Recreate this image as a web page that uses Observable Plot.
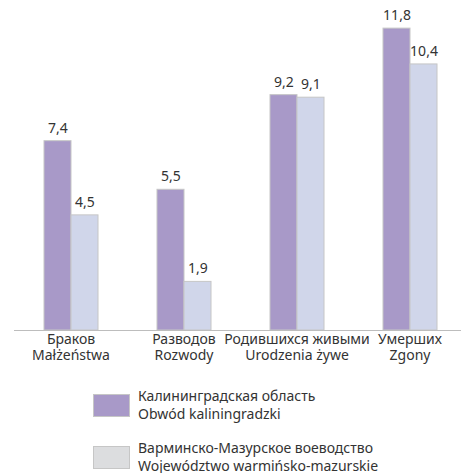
<!DOCTYPE html>
<html>
<head>
<meta charset="utf-8">
<script src="https://cdn.jsdelivr.net/npm/d3@7"></script>
<script src="https://cdn.jsdelivr.net/npm/@observablehq/plot@0.6"></script>
<style>
  body { margin: 0; background: #fff; font-family: "Noto Sans", sans-serif; color: #333; }
  #chart svg { display: block; }
  .legend { padding-left: 93px; margin-top: 17px; }
  .item { display: flex; align-items: center; margin-bottom: 16px; }
  .sw { width: 35px; height: 21px; border: 1px solid #c6c6c6; margin-right: 8px; flex: none; }
  .lbl { font-size: 14px; line-height: 18px; color: #333; }
</style>
</head>
<body>
<div id="chart"></div>
<div class="legend" id="legend"></div>
<script>
const categories = ["Браков\nMałżeństwa", "Разводов\nRozwody", "Родившихся живыми\nUrodzenia żywe", "Умерших\nZgony"];
const seriesNames = ["Калининградская область\nObwód kaliningradzki", "Варминско-Мазурское воеводство\nWojewództwo warmińsko-mazurskie"];
const kaliningrad = [7.4, 5.5, 9.2, 11.8];
const warmia = [4.5, 1.9, 9.1, 10.4];
const barColors = ["#a899c8", "#d0d6ea"];
const legendColors = ["#a899c8", "#dcdddf"];

const data = [];
categories.forEach((c, i) => {
  data.push({cat: c, series: seriesNames[0], value: kaliningrad[i]});
  data.push({cat: c, series: seriesNames[1], value: warmia[i]});
});
const fmt = v => v.toFixed(1).replace(".", ",");

const chart = Plot.plot({
  width: 461,
  height: 370,
  marginTop: 23,
  marginBottom: 40,
  marginLeft: 13,
  marginRight: -6,
  style: {fontFamily: "Noto Sans, sans-serif", fontSize: "14px", color: "#333"},
  fx: {domain: categories, padding: 0, label: null},
  x: {domain: seriesNames, paddingInner: 0, paddingOuter: 1.03, axis: null},
  y: {domain: [0, 12], axis: null},
  color: {domain: seriesNames, range: barColors},
  marks: [
    Plot.barY(data, {fx: "cat", x: "series", y: "value", fill: "series", stroke: "#c6c6c6", strokeWidth: 1, inset: 0}),
    Plot.ruleY([0], {stroke: "#bdbdbd", strokeWidth: 1}),
    Plot.text(data, {fx: "cat", x: "series", y: "value", text: d => fmt(d.value), dy: -13, fill: "#333", fontSize: 14}),
    Plot.axisFx({anchor: "bottom", tickSize: 0, tickPadding: 3, label: null, fontSize: 14, lineHeight: 1.1, fill: "#333"})
  ]
});
document.getElementById("chart").appendChild(chart);

const legend = document.getElementById("legend");
seriesNames.forEach((s, i) => {
  const item = document.createElement("div");
  item.className = "item";
  const sw = document.createElement("div");
  sw.className = "sw";
  sw.style.background = legendColors[i];
  const lbl = document.createElement("div");
  lbl.className = "lbl";
  lbl.innerHTML = s.split("\n").join("<br>");
  item.appendChild(sw);
  item.appendChild(lbl);
  legend.appendChild(item);
});
</script>
</body>
</html>
